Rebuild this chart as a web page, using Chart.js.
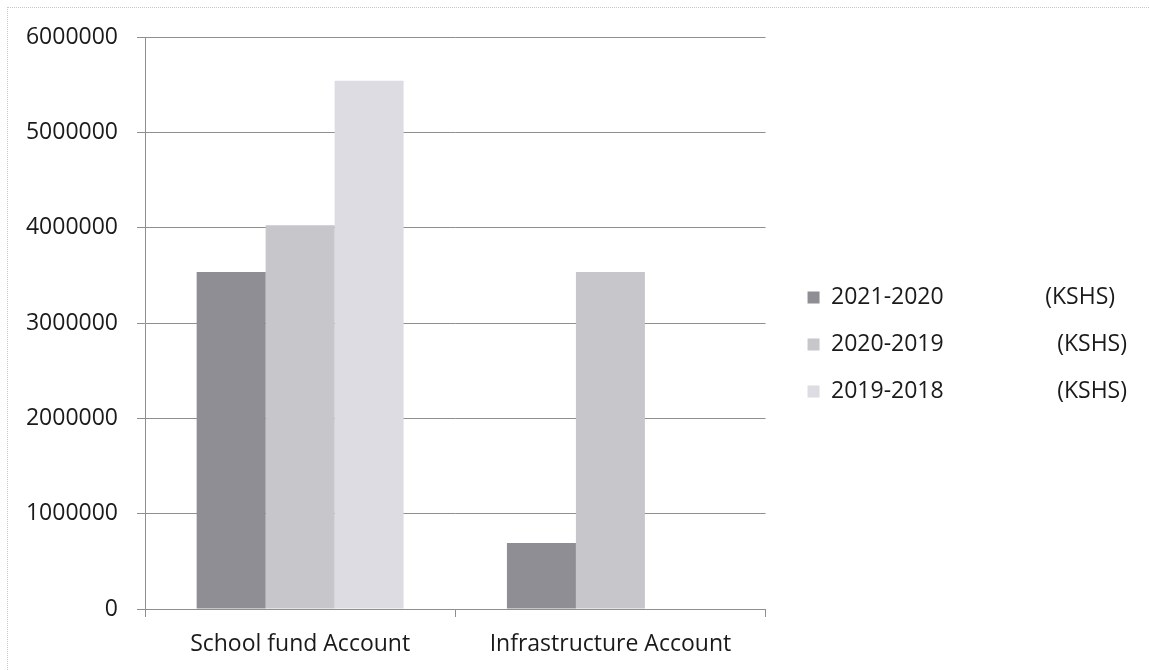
<!DOCTYPE html>
<html>
<head>
<meta charset="utf-8">
<script src="https://cdn.jsdelivr.net/npm/chart.js@4"></script>
<style>
  html, body { margin: 0; padding: 0; background: #fff; }
  #wrap { position: relative; width: 1149px; height: 670px; }
  #frame { position: absolute; left: 7px; top: 7px; right: -2px; bottom: -2px;
           border-top: 1px dotted #c8c8c8; border-left: 1px dotted #c8c8c8; pointer-events: none; }
</style>
</head>
<body>
<div id="wrap">
  <canvas id="chart" width="1149" height="670"></canvas>
  <div id="frame"></div>
</div>
<script>
const categories = ['School fund Account', 'Infrastructure Account'];
const seriesLabels = [
  '2021-2020                 (KSHS)',
  '2020-2019                   (KSHS)',
  '2019-2018                   (KSHS)'
];
const values2021 = [3535000, 692000];
const values2020 = [4025000, 3535000];
const values2019 = [5540000, 0];
const yTicks = [0, 1000000, 2000000, 3000000, 4000000, 5000000, 6000000];

const colors = ['#8e8e94', '#c6c6cb', '#dcdce2'];
const font = { family: 'Open Sans', size: 23 };
const gridColor = '#8f8f8f';

new Chart(document.getElementById('chart'), {
  type: 'bar',
  data: {
    labels: categories,
    datasets: [values2021, values2020, values2019].map((v, i) => ({
      label: seriesLabels[i],
      data: v,
      backgroundColor: colors[i],
      borderWidth: 0,
      categoryPercentage: 0.667,
      barPercentage: 1
    }))
  },
  options: {
    responsive: false,
    animation: false,
    layout: { padding: { top: 37, left: 0, right: 12, bottom: 18 } },
    plugins: {
      tooltip: { enabled: false },
      legend: {
        position: 'right',
        maxWidth: 400,
        labels: {
          font: font,
          color: '#1a1a1a',
          boxWidth: 12,
          boxHeight: 12,
          padding: 24
        }
      }
    },
    scales: {
      x: {
        grid: { drawOnChartArea: false, tickLength: 8, color: gridColor },
        border: { color: gridColor },
        ticks: { font: font, color: '#1a1a1a', padding: 14 },
        afterFit: s => { s.height = 43; }
      },
      y: {
        min: 0,
        max: 6000000,
        afterBuildTicks: s => { s.ticks = yTicks.map(v => ({ value: v })); },
        grid: { tickLength: 8, color: gridColor },
        border: { color: gridColor },
        ticks: { font: font, color: '#1a1a1a', padding: 19, callback: v => String(v) },
        afterFit: s => { s.width = 145; }
      },
      spacer: {
        position: 'right',
        display: true,
        grid: { display: false },
        border: { display: false },
        ticks: { display: false },
        afterFit: s => { s.width = 18; }
      }
    }
  }
});
</script>
</body>
</html>
